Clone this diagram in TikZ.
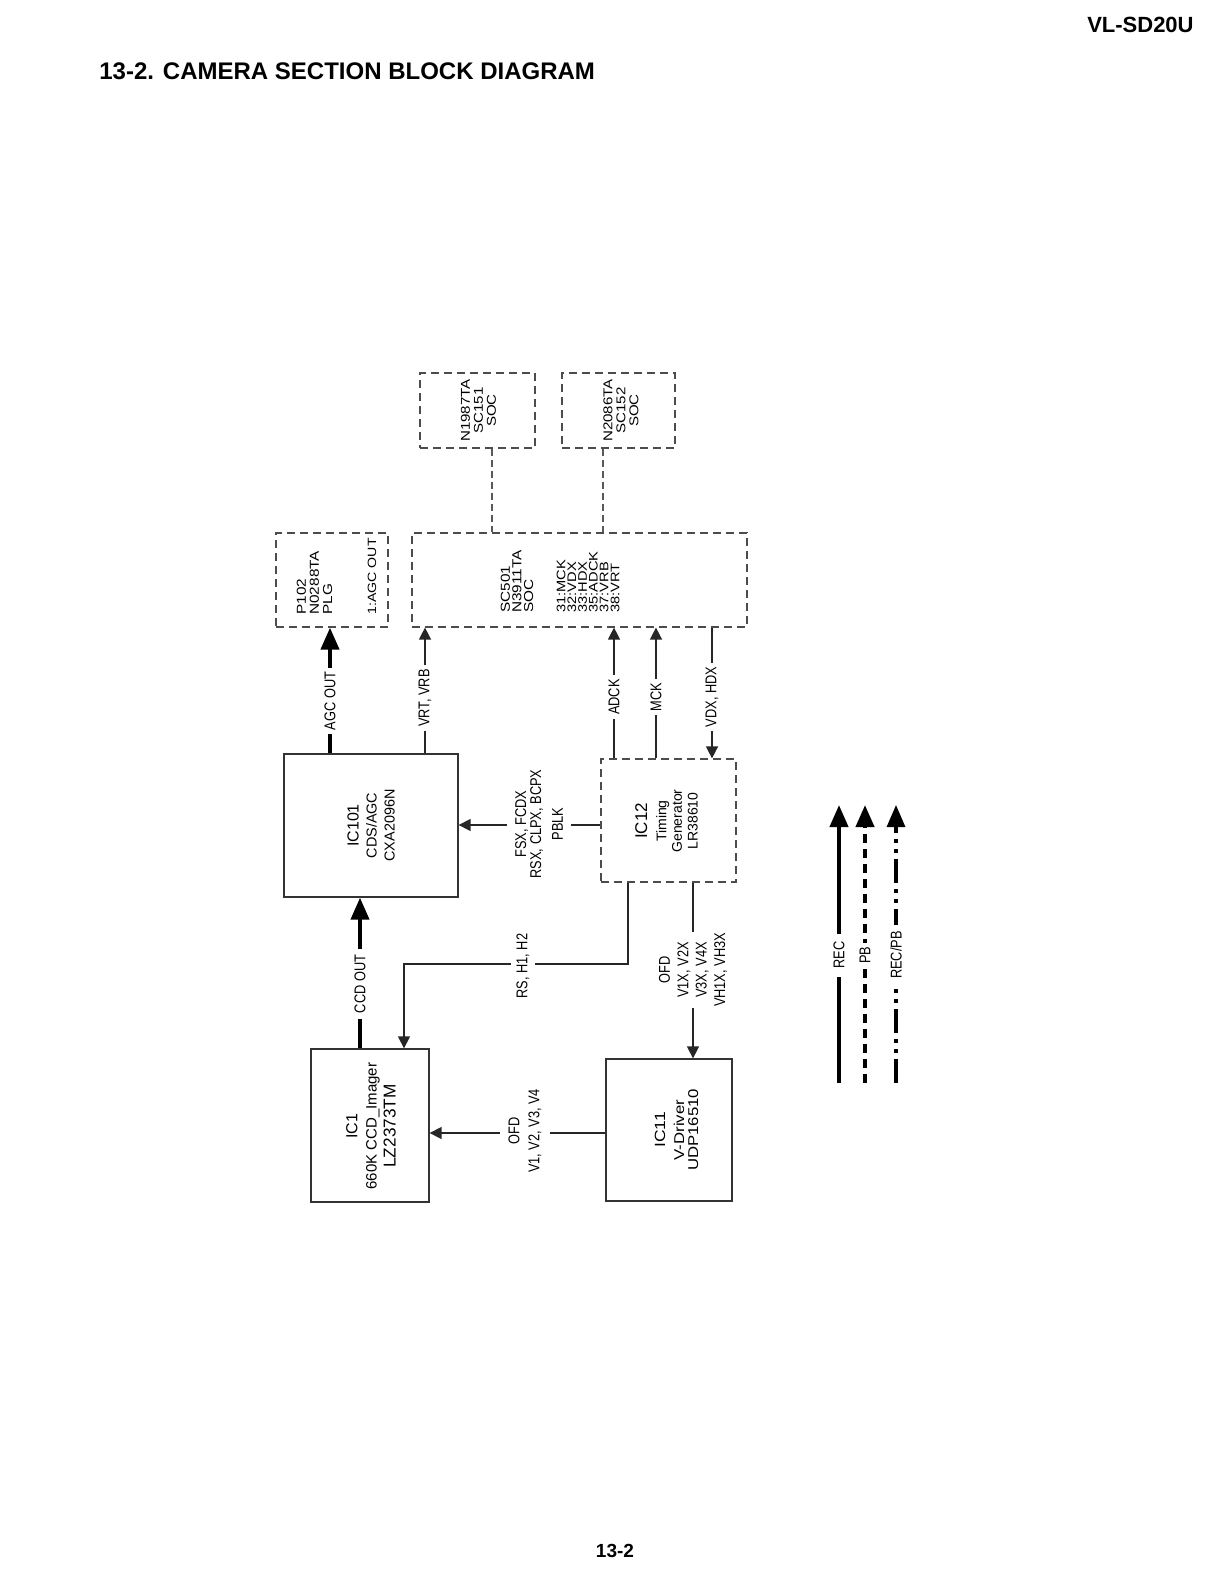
\documentclass[tikz,border=0pt]{standalone}
\usepackage{fontspec}
\setmainfont{Liberation Sans}
\newfontfamily\labfont[FakeStretch=0.82]{Liberation Sans}
\newfontfamily\boxfont[FakeStretch=1.18]{Liberation Sans}
\usetikzlibrary{arrows.meta}
\newcommand\fsz[2]{\fontsize{#1}{#2}\selectfont\lineskiplimit=-20pt\relax}
\begin{document}
\begin{tikzpicture}[x=0.5pt,y=-0.5pt,
  lnk/.style={draw=black!85, line width=0.7pt},
  tarr/.style={lnk, -{Triangle[length=6pt,width=6pt]}},
  karr/.style={draw=black, line width=2pt, -{Triangle[length=11pt,width=9pt]}},
  box/.style={draw=black!80, line width=0.65pt, inner sep=0pt},
  dbox/.style={box, draw=black!70, line width=0.6pt, dash pattern=on 4pt off 2.5pt},
  dlink/.style={draw=black!65, line width=0.55pt, dash pattern=on 3.5pt off 2pt},
  lab/.style={rotate=90, fill=white, inner xsep=2pt, inner ysep=1pt, align=center, font=\labfont\fsz{7.8}{9}},
  txt/.style={rotate=90, inner sep=0pt, align=center}]
\fill[white] (0,0) rectangle (1225,1589);
\useasboundingbox (0,0) rectangle (1225,1589);

% headers
\node[anchor=base east, inner sep=0pt, font=\bfseries\fsz{11}{13}] (model) at (1194,33) {VL-SD20U};
\node[anchor=base west, inner sep=0pt, font=\bfseries\fsz{12}{14}] (title) at (99,80) {13-2. CAMERA SECTION BLOCK DIAGRAM};
\node[anchor=base, inner sep=0pt, font=\bfseries\fsz{9.5}{11}] (page) at (615,1557) {13-2};

% boxes
\node[dbox, minimum width=57.5pt, minimum height=37.5pt] (SC151) at (477.5,410.5) {};
\node[dbox, minimum width=56.5pt, minimum height=37.5pt] (SC152) at (618.5,410.5) {};
\node[dbox, minimum width=56pt, minimum height=47pt] (P102) at (332,580) {};
\node[dbox, minimum width=167.5pt, minimum height=47pt] (SC501) at (579.5,580) {};
\node[box, minimum width=87pt, minimum height=71.5pt] (IC101) at (371,825.5) {};
\node[dbox, minimum width=67.5pt, minimum height=61.5pt] (IC12) at (668.5,820.5) {};
\node[box, minimum width=59pt, minimum height=76.5pt] (IC1) at (370,1125.5) {};
\node[box, minimum width=63pt, minimum height=71pt] (IC11) at (669,1130) {};

% box texts
\node[txt, font=\boxfont\fsz{6.4}{6.5}] (SC151t) at (478.5,410.5) {N1987TA\\SC151\\SOC};
\node[txt, font=\boxfont\fsz{6.4}{6.5}] (SC152t) at (621,410.5) {N2086TA\\SC152\\SOC};
\node[txt, anchor=west, align=left, font=\boxfont\fsz{6.5}{6.6}] (P102t) at (314.5,615) {P102\\N0288TA\\PLG};
\node[txt, anchor=west, align=left, font=\boxfont\fsz{6}{7}] (P102p) at (372,615) {1:AGC OUT};
\node[txt, anchor=west, align=left, font=\boxfont\fsz{6.5}{5.8}] (SC501t) at (517,613) {SC501\\N3911TA\\SOC};
\node[txt, anchor=west, align=left, font=\boxfont\fsz{6.2}{5.4}] (SC501p) at (588,613) {31:MCK\\32:VDX\\33:HDX\\35:ADCK\\37:VRB\\38:VRT};
\node[txt, font=\fsz{7.2}{9}] (IC101t) at (371,825.5) {{\fsz{8}{9}IC101}\\CDS/AGC\\CXA2096N};
\node[txt, font=\fsz{7}{7.8}] (IC12t) at (666.5,821) {{\fsz{8.5}{9}IC12}\\[1.8pt]Timing\\Generator\\LR38610};
\node[txt, font=\fsz{7.5}{9.6}] (IC1t) at (371,1126) {{\fsz{8}{9}IC1}\\660K CCD\_Imager\\{\fsz{8.6}{9}LZ2373TM}};
\node[txt, font=\boxfont\fsz{7.1}{7}] (IC11t) at (676.5,1130) {{\fsz{7.4}{9}IC11}\\[2.5pt]V-Driver\\UDP16510};

% connector positions
\coordinate (xA) at (330,0);
\coordinate (xV) at (425,0);
\coordinate (xAD) at (614,0);
\coordinate (xM) at (656,0);
\coordinate (xVD) at (712,0);
\coordinate (xRS) at (628,0);
\coordinate (xRSb) at (404,0);
\coordinate (yRS) at (0,964);
\coordinate (xCCD) at (360,0);
\coordinate (xOFD) at (693,0);
\coordinate (yFSX) at (0,825);
\coordinate (yOFD) at (0,1133);
\coordinate (xS1) at (492,0);
\coordinate (xS2) at (603,0);

% connectors
\draw[dlink] (SC151.south -| xS1) -- (SC501.north -| xS1);
\draw[dlink] (SC152.south -| xS2) -- (SC501.north -| xS2);
\draw[karr] (IC101.north -| xA) -- (P102.south -| xA);
\draw[tarr] (IC101.north -| xV) -- (SC501.south -| xV);
\draw[tarr] (IC12.north -| xAD) -- (SC501.south -| xAD);
\draw[tarr] (IC12.north -| xM) -- (SC501.south -| xM);
\draw[tarr] (SC501.south -| xVD) -- (IC12.north -| xVD);
\draw[tarr] (IC12.west |- yFSX) -- (IC101.east |- yFSX);
\draw[tarr] (IC12.south -| xRS) |- (yRS -| xRSb) -- (IC1.north -| xRSb);
\draw[karr] (IC1.north -| xCCD) -- (IC101.south -| xCCD);
\draw[tarr] (IC12.south -| xOFD) -- (IC11.north -| xOFD);
\draw[tarr] (IC11.west |- yOFD) -- (IC1.east |- yOFD);

% connector labels
\node[lab] (lAGC) at (330,701) {AGC OUT};
\node[lab] (lVRT) at (425,698) {VRT, VRB};
\node[lab] (lADCK) at (614,697) {ADCK};
\node[lab] (lMCK) at (656,697) {MCK};
\node[lab] (lVDX) at (712,697) {VDX, HDX};
\node[lab, inner ysep=4pt, font=\labfont\fsz{7.8}{7.5}] (lFSX) at (539,824) {FSX, FCDX\\RSX, CLPX, BCPX\\[3.3pt]PBLK};
\node[lab, inner ysep=3pt] (lRS) at (523,966) {RS, H1, H2};
\node[lab, inner xsep=3pt] (lCCD) at (360,984) {CCD OUT};
\node[lab, inner xsep=0.5pt, font=\labfont\fsz{7.8}{9.2}] (lOFD1) at (693,970) {OFD\\V1X, V2X\\V3X, V4X\\VH1X, VH3X};
\node[lab, inner ysep=4.5pt, font=\labfont\fsz{7.8}{10}] (lOFD2) at (525,1131) {OFD\\V1, V2, V3, V4};

% legend
\coordinate (recB) at (839,1083); \coordinate (recT) at (839,805);
\coordinate (pbB) at (865,1083); \coordinate (pbT) at (865,805);
\coordinate (rpB) at (896,1083); \coordinate (rpT) at (896,805);
\draw[karr] (recB) -- (recT);
\draw[karr, dash pattern=on 4.5pt off 3pt] (pbB) -- (pbT);
\draw[karr, line width=1.6pt, dash pattern=on 12pt off 3pt on 2pt off 3pt on 2pt off 3pt] (rpB) -- (rpT);
\node[lab, inner xsep=4pt] (lREC) at (839,955) {REC};
\node[lab, inner xsep=1.5pt] (lPB) at (865,955) {PB};
\node[lab, inner xsep=3pt] (lRP) at (896,955) {REC/PB};
\end{tikzpicture}
\end{document}
